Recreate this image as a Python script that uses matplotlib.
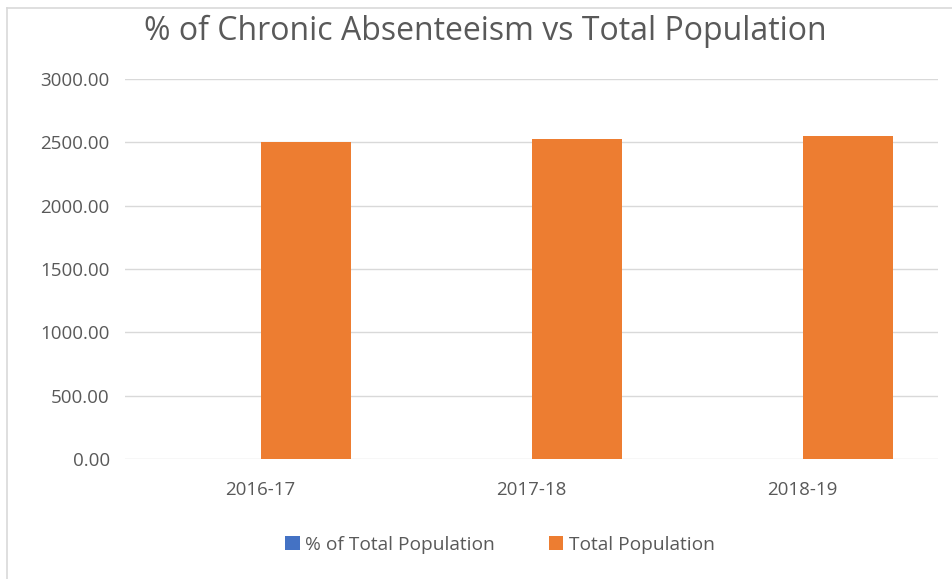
import numpy as np
import matplotlib.pyplot as plt
from matplotlib.lines import Line2D
from matplotlib.ticker import FormatStrFormatter

# School years and the two series
years = ['2016-17', '2017-18', '2018-19']
pct_total_population = [0.12, 0.14, 0.15]
total_population = [2503, 2524, 2552]

blue = '#4472C4'
orange = '#ED7D31'
grey_text = '#595959'

plt.rcParams['font.family'] = ['Open Sans', 'DejaVu Sans']

fig = plt.figure(figsize=(9.52, 5.79), dpi=100)
ax = fig.add_axes([125/952, 1 - 459/579, (938 - 125)/952, (459 - 79)/579])

x = np.arange(len(years))
w = 0.335
ax.bar(x - w/2, pct_total_population, width=w, color=blue, label='% of Total Population')
ax.bar(x + w/2, total_population, width=w, color=orange, label='Total Population')

ax.set_xlim(-0.5, len(years) - 0.5)
ax.set_ylim(0, 3000)
ax.set_yticks(np.arange(0, 3001, 500))
ax.yaxis.set_major_formatter(FormatStrFormatter('%.2f'))
ax.set_xticks(x)
ax.set_xticklabels(years)
ax.grid(axis='y', color='#d9d9d9', linewidth=1)
ax.set_axisbelow(True)
for s in ax.spines.values():
    s.set_visible(False)
ax.tick_params(axis='both', length=0, labelsize=13.5, colors=grey_text)
ax.tick_params(axis='y', pad=11)
ax.tick_params(axis='x', pad=16)

fig.suptitle('% of Chronic Absenteeism vs Total Population', x=485/952, y=1 - 15/579,
             va='top', fontsize=23, color=grey_text)

leg = fig.legend(loc='center', bbox_to_anchor=(500/952, 1 - 545/579), ncol=2,
                 frameon=False, fontsize=13.8, handlelength=0.75, handleheight=0.75,
                 handletextpad=0.3, columnspacing=2.8)
for t in leg.get_texts():
    t.set_color(grey_text)

# chart frame (left and top edges only)
fig.add_artist(Line2D([6.5/952, 6.5/952], [0, 1 - 7.5/579], transform=fig.transFigure,
                      color='#d9d9d9', linewidth=1.2))
fig.add_artist(Line2D([6.5/952, 1], [1 - 7.5/579, 1 - 7.5/579], transform=fig.transFigure,
                      color='#d9d9d9', linewidth=1.2))

plt.savefig('out.png', dpi=100)
